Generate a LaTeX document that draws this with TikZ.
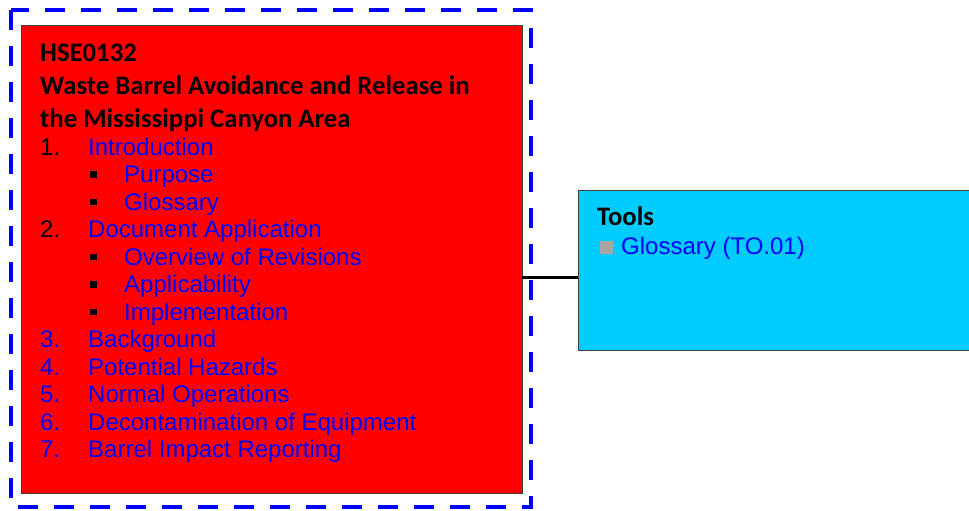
\documentclass[tikz,border=0pt]{standalone}
\usepackage{fontspec}
\setmainfont{Liberation Sans}
\newfontfamily\headfont{Carlito}
\usepackage{xcolor}
\definecolor{linkblue}{RGB}{0,0,255}
\definecolor{toolcyan}{RGB}{0,204,255}
\definecolor{markgray}{RGB}{166,166,166}

\begin{document}
\begin{tikzpicture}[x=1pt, y=-1pt,
    head/.style={anchor=base west, inner sep=0pt, font=\headfont\bfseries\fontsize{26.7}{27}\selectfont},
    entry/.style={anchor=base west, inner sep=0pt, text=linkblue, font=\fontsize{24}{24}\selectfont},
    num/.style={entry, text=black},
    bulletmark/.style={fill=black, minimum size=6.7pt, inner sep=0pt}]
  \useasboundingbox (0,0) rectangle (969,511);
  % boxes
  \node (doc) [draw=black!75, fill=red, anchor=north west, minimum width=501pt, minimum height=468pt, inner sep=0pt] at (21,25) {};
  \node (tools) [draw=black!75, fill=toolcyan, anchor=north west, minimum width=400pt, minimum height=160pt, inner sep=0pt] at (578,190) {};
  \coordinate (joint) at (550,277);
  \draw[line width=3pt] (doc.east |- joint) -- (tools.west |- joint);
  \draw[linkblue, line width=4pt, dash pattern=on 20pt off 16pt] (11,10) rectangle (531,507);
  % document title
  \node (code) [head] at (40,62) {HSE0132};
  \node (titleA) [head] at (40,95) {Waste Barrel Avoidance and Release in};
  \node (titleB) [head] at (40,127.5) {the Mississippi Canyon Area};
  % contents
  \node (n1) [num] at (40,155) {1.};
  \node (intro) [entry] at (88,155) {Introduction};
  \node (b1) [bulletmark] at (93.5,174.5) {};
  \node (purpose) [entry] at (124,182.5) {Purpose};
  \node (b2) [bulletmark] at (93.5,202) {};
  \node (gloss) [entry] at (124,210) {Glossary};
  \node (n2) [num] at (40,237.5) {2.};
  \node (docapp) [entry] at (88,237.5) {Document Application};
  \node (b3) [bulletmark] at (93.5,257) {};
  \node (revs) [entry] at (124,265) {Overview of Revisions};
  \node (b4) [bulletmark] at (93.5,284.5) {};
  \node (applic) [entry] at (124,292.5) {Applicability};
  \node (b5) [bulletmark] at (93.5,312) {};
  \node (implem) [entry] at (124,320) {Implementation};
  \node (n3) [entry] at (40,347.5) {3.};
  \node (backgr) [entry] at (88,347.5) {Background};
  \node (n4) [entry] at (40,375) {4.};
  \node (hazards) [entry] at (88,375) {Potential Hazards};
  \node (n5) [entry] at (40,402.5) {5.};
  \node (normops) [entry] at (88,402.5) {Normal Operations};
  \node (n6) [entry] at (40,430) {6.};
  \node (decon) [entry] at (88,430) {Decontamination of Equipment};
  \node (n7) [entry] at (40,457.5) {7.};
  \node (impact) [entry] at (88,457.5) {Barrel Impact Reporting};
  % tools
  \node (toolshead) [head] at (597,225) {Tools};
  \node (tb) [fill=markgray, minimum size=13pt, inner sep=0pt] at (606,247.5) {};
  \node (toolgloss) [entry] at (621,254) {Glossary (TO.01)};
\end{tikzpicture}
\end{document}
